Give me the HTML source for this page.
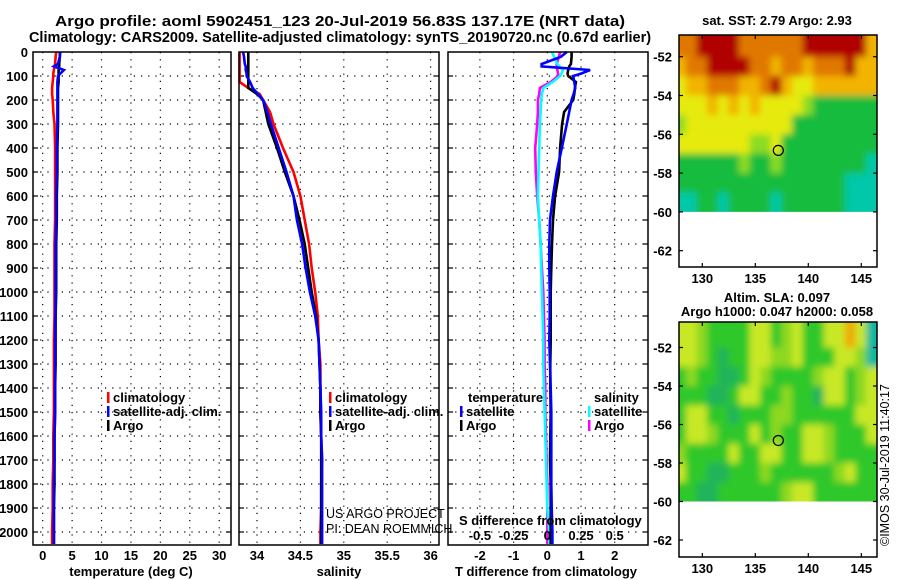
<!DOCTYPE html>
<html><head><meta charset="utf-8">
<style>
html,body{margin:0;padding:0;background:#fff;}
svg{display:block;font-family:"Liberation Sans",sans-serif;}
.b{font-weight:bold;font-size:13px;}
.t{font-weight:bold;font-size:14.5px;}
</style></head>
<body>
<svg id="c" width="900" height="580" viewBox="0 0 900 580" xmlns="http://www.w3.org/2000/svg">
<defs>
<filter id="blur" x="0" y="0" width="1" height="1"><feGaussianBlur stdDeviation="3.5" edgeMode="duplicate"/></filter>
</defs>
<text class="t" x="340" y="26" text-anchor="middle" textLength="570" lengthAdjust="spacingAndGlyphs">Argo profile: aoml 5902451_123 20-Jul-2019 56.83S 137.17E (NRT data)</text>
<text class="t" x="340" y="42" text-anchor="middle">Climatology: CARS2009. Satellite-adjusted climatology: synTS_20190720.nc (0.67d earlier)</text>
<g id="g"></g>
</svg>
<script>
const depths=[0,20,50,60,75,90,100,125,150,175,200,250,300,400,500,600,700,800,900,1000,1100,1200,1300,1400,1500,1600,1700,1800,1900,2000,2050];
const tempArgo=[2.9,2.9,2.8,2.8,2.7,2.7,2.7,2.7,2.6,2.6,2.6,2.6,2.6,2.5,2.5,2.4,2.4,2.3,2.3,2.3,2.2,2.2,2.2,2.1,2.1,2.0,2.0,2.0,1.9,1.9,1.9];
const tempClim=[2.3,2.2,2.1,2.0,1.9,1.8,1.8,1.7,1.6,1.6,1.7,1.8,2.0,2.1,2.1,2.1,2.1,2.0,2.0,2.0,2.0,1.9,1.9,1.9,1.9,1.8,1.8,1.7,1.7,1.6,1.6];
const tempSat=[3.0,2.9,2.6,1.9,3.6,3.0,2.6,2.5,2.5,2.5,2.5,2.5,2.5,2.4,2.4,2.3,2.3,2.2,2.2,2.2,2.2,2.1,2.1,2.1,2.1,2.0,2.0,1.9,1.9,1.9,1.9];
const salArgo=[33.9,33.9,33.9,33.9,33.9,33.9,33.9,33.9,33.9,34.0,34.07,34.1,34.13,34.23,34.32,34.42,34.49,34.55,34.59,34.63,34.68,34.71,34.72,34.73,34.73,34.74,34.74,34.74,34.74,34.74,34.74];
const salClim=[33.8,33.8,33.8,33.8,33.8,33.8,33.8,33.8,33.9,34.03,34.07,34.15,34.19,34.3,34.42,34.5,34.55,34.6,34.63,34.67,34.7,34.71,34.73,34.73,34.73,34.74,34.75,34.74,34.74,34.73,34.73];
const salSat=[33.84,33.85,33.86,33.87,33.87,33.88,33.88,33.92,33.95,34.01,34.07,34.12,34.16,34.25,34.34,34.42,34.46,34.52,34.56,34.61,34.67,34.71,34.72,34.73,34.74,34.74,34.75,34.75,34.75,34.75,34.75];
const dTArgo=[0.72,0.72,0.7,0.65,0.62,0.6,0.62,0.85,0.82,0.8,0.77,0.5,0.44,0.38,0.35,0.23,0.17,0.14,0.12,0.1,0.1,0.1,0.09,0.09,0.1,0.09,0.08,0.1,0.1,0.1,0.1];
const dTSat=[0.58,0.4,-0.17,-0.17,1.27,1.0,0.77,0.8,0.83,0.78,0.72,0.65,0.58,0.43,0.28,0.17,0.08,0.06,0.06,0.07,0.07,0.06,0.08,0.1,0.12,0.12,0.12,0.12,0.13,0.15,0.15];
const dSArgo=[0.095,0.085,0.07,0.07,0.075,0.08,0.08,0.025,-0.055,-0.06,-0.07,-0.07,-0.075,-0.09,-0.085,-0.075,-0.06,-0.05,-0.04,-0.03,-0.025,-0.02,-0.02,-0.015,-0.015,-0.01,-0.005,0.0,0.0,0.0,0.0];
const dSSat=[0.035,0.05,0.075,0.09,0.115,0.105,0.095,0.04,-0.03,-0.04,-0.045,-0.05,-0.055,-0.06,-0.065,-0.07,-0.06,-0.05,-0.045,-0.04,-0.035,-0.03,-0.03,-0.025,-0.02,-0.015,-0.01,-0.005,0.0,0.015,0.015];
const depthTicks=[0,100,200,300,400,500,600,700,800,900,1000,1100,1200,1300,1400,1500,1600,1700,1800,1900,2000];
const tTicks=[0,5,10,15,20,25,30];
const sTicks=[34,34.5,35,35.5,36];
const sTickLabels=["34","34.5","35","35.5","36"];
const dTicks=[-2,-1,0,1,2];
const dsTicks=[-0.5,-0.25,0,0.25,0.5];
const dsTickLabels=["-0.5","-0.25","0","0.25","0.5"];
const sstRows=["OORRRROOOOOORRRRRRA","AOORRRROOAOOAOOORAA","YAAOOOAAORAYYAAAAAA","YYYAYAYAYYYYLGGGGGG","LYYYYYYYYYYGGGGGGGG","YYYYYYYLLYGGGGGGGGG","GGGGGGLGGLGGGGGGGGC","GGGGGGGGGGGGGGGGCCC","CCGGCGGGGCGGGGGGCCC"];
const slaRows=["YYLGGGGYYGLYGGYYOYC","YYLGTGGYYLLYGGGYYLC","GLGGTTGYLGGGGLYYGLY","GGGTTGYYGGLGGTYYGLY","GYYGGTGGGLLGGGGGGYY","GYYLGGGYGLGGYYLGGGY","LGGGGYGGYYGGYYLGGGG","YGGTTGGGLGGGGGGLYGG","GGTTGGGGGGLYYGGGGGG"];
const mapLats=[-51,-52,-53,-54,-55,-56,-57,-58,-59];
const mapLatLabels=[-52,-54,-56,-58,-60,-62];
const mapLonLabels=[130,135,140,145];
const argoLon=137.17, argoLat=-56.83;

const NS="http://www.w3.org/2000/svg";
const G=document.getElementById('g');
function el(tag,attrs,parent){const e=document.createElementNS(NS,tag);for(const k in attrs)e.setAttribute(k,attrs[k]);(parent||G).appendChild(e);return e;}
function txt(s,x,y,cls,anchor,name,parent){const e=el('text',{x:x,y:y,'text-anchor':anchor||'start'},parent);if(cls)e.setAttribute('class',cls);e.textContent=s;


return e;}

const yD=d=>52+d*0.24;
const xT=t=>42.7+t*5.883;
const xS=s=>257+(s-34)*86.8;
const xDT=v=>547.3+v*33.7;
const xDS=v=>547.3+v*134.8;
const TOP=52,BOT=545;
const panels=[{x0:33,x1:231,name:'temperature-panel'},{x0:239,x1:439,name:'salinity-panel'},{x0:448,x1:648,name:'difference-panel'}];

function vgrid(x){const l=el('line',{x1:x,x2:x,y1:TOP,y2:BOT,stroke:'#000','stroke-width':1.2,'stroke-dasharray':'1.2 6'});

}
panels.forEach(p=>{depthTicks.forEach(d=>{if(d===0)return;const l=el('line',{x1:p.x0,x2:p.x1,y1:yD(d),y2:yD(d),stroke:'#000','stroke-width':1.2,'stroke-dasharray':'1.2 6'});


[p.x0,p.x1-5].forEach(xx=>{const tk=el('line',{x1:xx,x2:xx+5,y1:yD(d),y2:yD(d),stroke:'#000','stroke-width':1.2});

});});});
tTicks.forEach(t=>{vgrid(xT(t));txt(String(t),xT(t),560,'b','middle','temperature-tick-label');});
sTicks.forEach((s,i)=>{vgrid(xS(s));txt(sTickLabels[i],xS(s),560,'b','middle','salinity-tick-label');});
dTicks.forEach(t=>{vgrid(xDT(t));txt(String(t),xDT(t),560,'b','middle','t-diff-tick-label');});
depthTicks.forEach(d=>txt(String(d),28,yD(d)+5,'b','end','depth-tick-label'));

function line(xs,xf,color,name){const pts=depths.map((d,i)=>xf(xs[i]).toFixed(1)+','+yD(d).toFixed(1)).join(' ');
const p=el('polyline',{points:pts,fill:'none',stroke:color,'stroke-width':2.6,'stroke-linejoin':'miter'});

}
line(tempClim,xT,'#ff0000','temp-climatology-line');
line(tempArgo,xT,'#000','temp-argo-line');
line(tempSat,xT,'#0000ff','temp-satellite-line');
line(salClim,xS,'#ff0000','sal-climatology-line');
line(salArgo,xS,'#000','sal-argo-line');
line(salSat,xS,'#0000ff','sal-satellite-line');
line(dSArgo,xDS,'#ff00ff','sdiff-argo-line');
line(dSSat,xDS,'#00ffff','sdiff-satellite-line');
line(dTArgo,xDT,'#000','tdiff-argo-line');
line(dTSat,xDT,'#0000ff','tdiff-satellite-line');

panels.forEach(p=>{const r=el('rect',{x:p.x0,y:TOP,width:p.x1-p.x0,height:BOT-TOP,fill:'none',stroke:'#000','stroke-width':1.5});

});

txt('temperature (deg C)',131,576,'b','middle','temperature-axis-title');
txt('salinity',339,576,'b','middle','salinity-axis-title');
txt('T difference from climatology',546,576,'b','middle','t-diff-axis-title');

function legend(x,y,color,label,name){const r=el('rect',{x:x,y:y-10,width:2.5,height:11,fill:color});


txt(label,x+6,y,'b','start',name);}
legend(107,402,'#ff0000','climatology','legend-climatology');
legend(107,416,'#0000ff','satellite-adj. clim.','legend-satellite-adj');
legend(107,430,'#000','Argo','legend-argo');
legend(329,402,'#ff0000','climatology','legend-sal-climatology');
legend(329,416,'#0000ff','satellite-adj. clim.','legend-sal-satellite-adj');
legend(329,430,'#000','Argo','legend-sal-argo');
txt('temperature',468,402,'b','start','legend-temperature-heading');
legend(460,416,'#0000ff','satellite','legend-t-satellite');
legend(460,430,'#000','Argo','legend-t-argo');
txt('salinity',594,402,'b','start','legend-salinity-heading');
legend(588,416,'#00ffff','satellite','legend-s-satellite');
legend(588,430,'#ff00ff','Argo','legend-s-argo');

txt('US ARGO PROJECT',326,518,null,'start','credit-project').setAttribute('font-size','12.5');
txt('PI: DEAN ROEMMICH',326,533,null,'start','credit-pi').setAttribute('font-size','12.5');
txt('S difference from climatology',459,525,'b','start','s-diff-axis-title');
dsTicks.forEach((s,i)=>txt(dsTickLabels[i],xDS(s),540,'b','middle','s-diff-tick-label'));

const colors={R:'#b00000',O:'#e07800',A:'#f2b400',Y:'#e6ea10',L:'#8cdc20',G:'#14bc3c',C:'#00c8a8',T:'#22b070'};
const slaColors={Y:'#c8e826',L:'#8ed820',G:'#2ec82a',T:'#22b45a',O:'#f0a800',C:'#10b8a0'};
const xLon=lon=>702.3+(lon-130)*10.6;
function drawMap(rows,pal,yLat,top,bot,name){
 const left=679,right=877;
 const g=el('g',{});
 
 
 const dataBot=yLat(-60);
 const cp=el('clipPath',{id:name+'-clip'},g);el('rect',{x:left,y:top,width:right-left,height:dataBot-top},cp);
 const outer=el('g',{'clip-path':'url(#'+name+'-clip)'},g);
 const cg=el('g',{filter:'url(#blur)'},outer);
 rows.forEach((row,ri)=>{const lat=mapLats[ri];
  for(let ci=0;ci<row.length;ci++){const lon=128+ci;
   const y1=ri===0?top-10:yLat(lat),y2=ri===rows.length-1?dataBot+10:yLat(lat-1);
   const x1=ci===0?left-10:xLon(lon-0.5)-0.5, x2=ci===row.length-1?right+10:xLon(lon+0.5)+0.5;
   el('rect',{x:x1,y:y1,width:x2-x1,height:y2-y1+0.5,fill:pal[row[ci]]},cg);}});
 const c=el('circle',{cx:xLon(argoLon),cy:yLat(argoLat),r:5,fill:'none',stroke:'#000','stroke-width':1.2},g);
 
 
 const fr=el('rect',{x:left,y:top,width:right-left,height:bot-top,fill:'none',stroke:'#000','stroke-width':1.5},g);
 
 
 mapLatLabels.forEach(l=>{const y=yLat(l);if(y<top+3||y>bot-3)return;txt(String(l),672,y+5,'b','end',name+'-lat-label');
  [left,right-4].forEach(xx=>el('line',{x1:xx,x2:xx+4,y1:y,y2:y,stroke:'#000','stroke-width':1.2},g));});
 mapLonLabels.forEach(l=>{txt(String(l),xLon(l),bot+16,'b','middle',name+'-lon-label');
  [top,bot-4].forEach(yy=>el('line',{x1:xLon(l),x2:xLon(l),y1:yy,y2:yy+4,stroke:'#000','stroke-width':1.2},g));});
}
const yLat1=lat=>56.7+(-52-lat)*19.4;
const yLat2=lat=>386+(-54-lat)*19.25;
drawMap(sstRows,colors,yLat1,35,267,'sst-map');
drawMap(slaRows,slaColors,yLat2,322,557,'sla-map');
txt('sat. SST: 2.79 Argo: 2.93',777,25,'b','middle','sst-map-title');
txt('Altim. SLA: 0.097',777,302,'b','middle','sla-map-title-1');
txt('Argo h1000: 0.047 h2000: 0.058',777,316,'b','middle','sla-map-title-2');
const v=txt('©IMOS 30-Jul-2019 11:40:17',0,0,null,'start','imos-timestamp');
v.setAttribute('font-size','12.5');
v.setAttribute('transform','translate(889,546) rotate(-90)');
</script>
</body></html>
